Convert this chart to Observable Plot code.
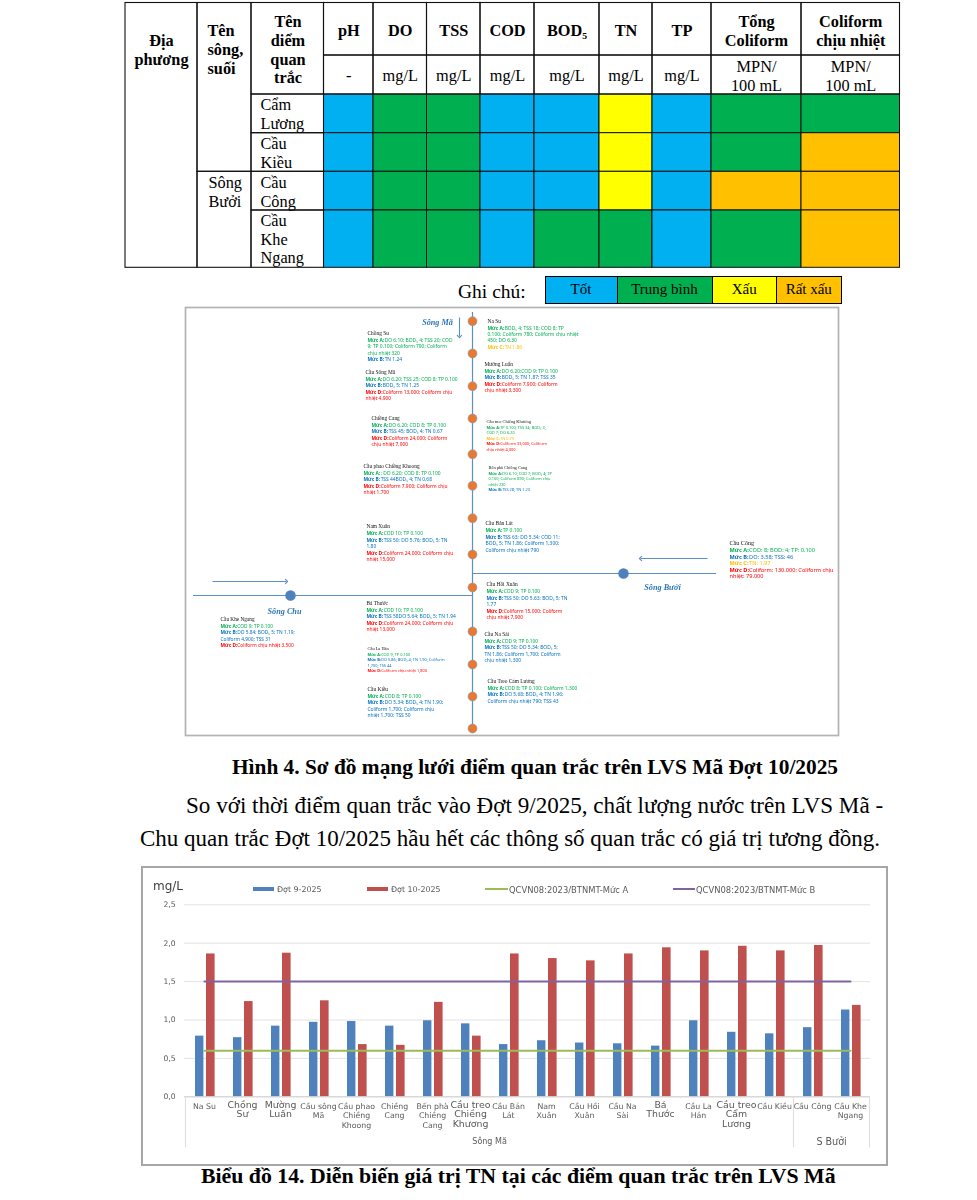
<!DOCTYPE html>
<html lang="vi">
<head>
<meta charset="utf-8">
<script src="https://cdn.jsdelivr.net/npm/d3@7"></script>
<script src="https://cdn.jsdelivr.net/npm/@observablehq/plot@0.6"></script>
<style>
html,body{margin:0;background:#fff;}
#page{position:relative;width:977px;height:1200px;overflow:hidden;font-family:"Liberation Serif",serif;color:#000;}
#page>*{position:absolute;}
.doc{white-space:nowrap;line-height:1;}
.soft svg{filter:blur(.35px);}
#qualityLegend{display:flex;left:544.5px;top:276px;height:26px;border:1.5px solid #000;font-size:15px;line-height:24px;text-align:center;}
#qualityLegend span{display:block;box-sizing:border-box;border-left:1px solid #000;}
#qualityLegend span:first-child{border-left:0;}
#chartFrame{left:141px;top:866px;width:743px;height:296px;border:2px solid #a6a6a6;background:#fff;}
#chartFrame>*{position:absolute;}
.lg{font:7.9px "DejaVu Sans",sans-serif;color:#595959;white-space:nowrap;filter:blur(.35px);}
.sw{filter:blur(.25px);}
</style>
</head>
<body>
<div id="page"></div>
<script>
// ---------- Table data ----------
const qualityGrades = ["Tốt", "Trung bình", "Xấu", "Rất xấu"];
const qualityColors = ["#00b0f0", "#00b050", "#ffff00", "#ffc000"];
const params = ["pH", "DO", "TSS", "COD", "BOD₅", "TN", "TP", "Tổng\nColiform", "Coliform\nchịu nhiệt"];
const units = ["-", "mg/L", "mg/L", "mg/L", "mg/L", "mg/L", "mg/L", "MPN/\n100 mL", "MPN/\n100 mL"];
const tablePoints = ["Cẩm\nLương", "Cầu\nKiều", "Cầu\nCông", "Cầu\nKhe\nNgang"];
const T = "Tốt", M = "Trung bình", X = "Xấu", R = "Rất xấu";
const gradesCamLuong = [T, M, M, T, T, X, T, M, M];
const gradesCauKieu = [T, M, M, T, T, X, T, M, R];
const gradesCauCong = [T, M, M, T, T, X, T, R, R];
const gradesKheNgang = [T, M, M, T, M, M, T, M, R];
const tableGrades = [gradesCamLuong, gradesCauKieu, gradesCauCong, gradesKheNgang];

// ---------- Bar chart data ----------
const stationLabels = ["Na Su", "Chồng\nSư", "Mường\nLuấn", "Cầu sông\nMã", "Cầu phao\nChiềng\nKhoong", "Chiềng\nCang",
  "Bến phà\nChiềng\nCang", "Cầu treo\nChiềng\nKhương", "Cầu Bản\nLát", "Nam\nXuân", "Cầu Hồi\nXuân", "Cầu Na\nSài",
  "Bá\nThước", "Cầu La\nHán", "Cầu treo\nCẩm\nLương", "Cầu Kiều", "Cầu Công", "Cầu Khe\nNgang"];
const tnDot9 = [0.79, 0.77, 0.92, 0.97, 0.98, 0.92, 0.99, 0.95, 0.68, 0.73, 0.70, 0.69, 0.66, 0.99, 0.84, 0.82, 0.90, 1.13];
const tnDot10 = [1.86, 1.24, 1.87, 1.25, 0.68, 0.67, 1.23, 0.79, 1.86, 1.80, 1.77, 1.86, 1.94, 1.90, 1.96, 1.90, 1.97, 1.19];
const limitA = 0.6;
const limitB = 1.5;
const yTicks = [0, 0.5, 1, 1.5, 2, 2.5];
const legendNames = ["Đợt 9-2025", "Đợt 10-2025", "QCVN08:2023/BTNMT-Mức A", "QCVN08:2023/BTNMT-Mức B"];
const largeLabels = ["Chồng\nSư", "Mường\nLuấn", "Cầu treo\nChiềng\nKhương", "Bá\nThước", "Cầu treo\nCẩm\nLương"];

// ---------- Network diagram notes ----------
const notes = {
  "Na Su": ["Mức A: BOD₅ 4; TSS 18; COD 8; TP", "0.100; Coliform 780; Coliform chịu nhiệt", "450; DO 6.30", "Mức C: TN 1.86"],
  "Chồng Su": ["Mức A:DO 6.10; BOD₅ 4; TSS 20; COD", "9; TP 0.100; Coliform 790; Coliform", "chịu nhiệt 320", "Mức B: TN 1.24"],
  "Mường Luấn": ["Mức A: DO 6.20;COD 9; TP 0.100", "Mức B: BOD₅ 5; TN 1.87; TSS 35", "Mức D: Coliform 7,900; Coliform", "chịu nhiệt 3,300"],
  "Cầu Sông Mã": ["Mức A: DO 6.20; TSS 25; COD 8; TP 0.100", "Mức B: BOD₅ 5; TN 1.25", "Mức D: Coliform 13,000; Coliform chịu", "nhiệt 4,900"],
  "Cầu treo Chiềng Khương": ["Mức A: TP 0.100; TSS 34; BOD₅ 3;", "COD 7; DO 6.20", "Mức C: TN 0.79", "Mức D: Coliform 33,000; Coliform", "chịu nhiệt 4,000"],
  "Chiềng Cang": ["Mức A: DO 6.20; COD 8; TP 0.100", "Mức B: TSS 45; BOD₅ 4; TN 0.67", "Mức D: Coliform 24,000; Coliform", "chịu nhiệt 7,900"],
  "Bến phà Chiềng Cang": ["Mức A: DO 6.10; COD 7; BOD₅ 4; TP", "0.100; Coliform 890; Coliform chịu", "nhiệt 230", "Mức B: TSS 28; TN 1.23"],
  "Cầu phao Chiềng Khoong": ["Mức A: ; DO 6.20; COD 8; TP 0.100", "Mức B: TSS 44BOD₅ 4; TN 0.68", "Mức D: Coliform 7,900; Coliform chịu", "nhiệt 1,700"],
  "Cầu Bản Lát": ["Mức A: TP 0.100", "Mức B: TSS 63; DO 5.34; COD 11;", "BOD₅ 5; TN 1.86; Coliform 1,300;", "Coliform chịu nhiệt 790"],
  "Nam Xuân": ["Mức A: COD 10; TP 0.100", "Mức B: TSS 50; DO 5.76; BOD₅ 5; TN", "1.80", "Mức D: Coliform 24,000; Coliform chịu", "nhiệt 15,000"],
  "Cầu Hồi Xuân": ["Mức A: COD 9; TP 0.100", "Mức B: TSS 50; DO 5.63; BOD₅ 5; TN", "1.77", "Mức D: Coliform 15,000; Coliform", "chịu nhiệt 7,900"],
  "Bá Thước": ["Mức A: COD 10; TP 0.100", "Mức B: TSS 58DO 5.64; BOD₅ 5; TN 1.94", "Mức D: Coliform 24,000; Coliform chịu", "nhiệt 13,000"],
  "Cầu Na Sài": ["Mức A: COD 9; TP 0.100", "Mức B: TSS 50; DO 5.34; BOD₅ 5;", "TN 1.86; Coliform 1,700; Coliform", "chịu nhiệt 1,300"],
  "Cầu La Hán": ["Mức A: COD 9; TP 0.100", "Mức B: DO 5.86; BOD₅ 4; TN 1.90; Coliform", "1,700; TSS 44", "Mức D: Coliform chịu nhiệt 1,800"],
  "Cầu Treo Cẩm Lương": ["Mức A: COD 8; TP 0.100; Coliform 1,300", "Mức B: DO 5.68; BOD₅ 4; TN 1.96;", "Coliform chịu nhiệt 790; TSS 43"],
  "Cầu Kiều": ["Mức A: COD 8; TP 0.100", "Mức B: DO 5.34; BOD₅ 4; TN 1.90;", "Coliform 1,700; Coliform chịu", "nhiệt 1,700; TSS 50"],
  "Cầu Khe Ngang": ["Mức A: COD 9; TP 0.100", "Mức B: DO 5.84; BOD₅ 5; TN 1.19;", "Coliform 4,900; TSS 31", "Mức D: Coliform chịu nhiệt 3,500"],
  "Cầu Công": ["Mức A: COD: 8; BOD: 4; TP: 0.100", "Mức B: DO: 3.58; TSS: 46", "Mức C: TN: 1.97", "Mức D: Coliform: 130.000; Coliform chịu", "nhiệt: 79.000"]
};

// ---------- Layout (kept apart from the values) ----------
const page = document.getElementById("page");
function place(el, left, top) { el.style.left = left + "px"; el.style.top = top + "px"; page.appendChild(el); return el; }
function doc(text, left, top, size, bold) {
  const d = document.createElement("div"); d.className = "doc"; d.textContent = text;
  d.style.fontSize = size + "px"; d.style.fontWeight = bold ? "bold" : "normal";
  return place(d, left, top);
}

// ---- Table ----
const colEdges = [323.5, 373, 426.5, 480, 534, 599, 652, 711, 801, 899.5];
const rowEdges = [94, 132.7, 171.3, 210, 267.3];
const bodyCells = tableGrades.flatMap((row, r) => row.map((g, c) => ({x1: colEdges[c], x2: colEdges[c + 1], y1: rowEdges[r], y2: rowEdges[r + 1], grade: g})));
const frameCells = [
  {x1: 125, x2: 197, y1: 2.5, y2: 267.3}, {x1: 197, x2: 251, y1: 2.5, y2: 171.3}, {x1: 197, x2: 251, y1: 171.3, y2: 267.3},
  {x1: 251, x2: 323.5, y1: 2.5, y2: 94},
  ...tablePoints.map((_, r) => ({x1: 251, x2: 323.5, y1: rowEdges[r], y2: rowEdges[r + 1]})),
  ...params.flatMap((_, c) => [{x1: colEdges[c], x2: colEdges[c + 1], y1: 2.5, y2: 55}, {x1: colEdges[c], x2: colEdges[c + 1], y1: 55, y2: 94}])
];
const tf = {fontFamily: "Liberation Serif", fontSize: 16.3, lineHeight: 1.16, fill: "#000"};
const mid = c => (colEdges[c] + colEdges[c + 1]) / 2;
const tableSvg = Plot.plot({
  width: 777, height: 268, margin: 0,
  x: {domain: [124, 901], range: [0, 777], axis: null},
  y: {domain: [1, 269], range: [0, 268], axis: null},
  color: {domain: qualityGrades, range: qualityColors},
  style: {background: "transparent", overflow: "visible"},
  marks: [
    Plot.rect(bodyCells, {x1: "x1", x2: "x2", y1: "y1", y2: "y2", fill: "grade", stroke: "#111", strokeWidth: 1}),
    Plot.rect(frameCells, {x1: "x1", x2: "x2", y1: "y1", y2: "y2", fill: "none", stroke: "#111", strokeWidth: 1.1}),
    Plot.text(["Địa\nphương"], {...tf, x: () => 161, y: () => 48.5, fontWeight: "bold"}),
    Plot.text(["Tên\nsông,\nsuối"], {...tf, x: () => 207, y: () => 48.5, textAnchor: "start", fontWeight: "bold"}),
    Plot.text(["Tên\ndiểm\nquan\ntrắc"], {...tf, x: () => 287.5, y: () => 48.5, fontWeight: "bold"}),
    Plot.text(params, {...tf, x: (_, i) => mid(i), y: (d) => d.includes("\n") ? 29.5 : 29, fontWeight: "bold"}),
    Plot.text(units, {...tf, x: (_, i) => mid(i), y: () => 74.5}),
    Plot.text(tablePoints, {...tf, x: () => 260, y: (_, i) => [113, 151.5, 190.5, 238][i], textAnchor: "start"}),
    Plot.text(["Sông\nBưởi"], {...tf, x: () => 208, y: () => 190.5, textAnchor: "start"})
  ]
});
place(tableSvg, 124, 1);

doc("Ghi chú:", 458, 282, 19.5);
const qualityLegend = document.createElement("div"); qualityLegend.id = "qualityLegend";
[71, 95, 64.5, 64.5].forEach((w, i) => {
  const s = document.createElement("span"); s.textContent = qualityGrades[i];
  s.style.width = w + "px"; s.style.background = qualityColors[i]; qualityLegend.appendChild(s);
});
page.appendChild(qualityLegend);

// ---- Network diagram ----
const mainNodeY = [320.7, 353, 385.7, 418, 453.7, 485.3, 517.7, 554, 587, 631, 664, 696, 728];
const labelLayout = { // name: [x, title y, line step, font size]
  "Na Su": [487, 321, 6.3, 4.9], "Chồng Su": [367, 333, 6.5, 4.9], "Mường Luấn": [484, 364, 6.5, 4.9],
  "Cầu Sông Mã": [365, 372, 6.4, 4.9], "Cầu treo Chiềng Khương": [486, 421, 5.5, 3.9], "Chiềng Cang": [371, 418, 6.5, 4.9],
  "Bến phà Chiềng Cang": [488, 467, 5.5, 3.9], "Cầu phao Chiềng Khoong": [363, 466, 6.4, 4.9], "Cầu Bản Lát": [485, 523, 6.6, 4.9],
  "Nam Xuân": [366, 526, 6.6, 4.9], "Cầu Hồi Xuân": [486, 584, 6.6, 4.9], "Bá Thước": [366, 603, 6.5, 4.9],
  "Cầu Na Sài": [484, 634, 6.5, 4.9], "Cầu La Hán": [367, 648, 5.5, 3.9], "Cầu Treo Cẩm Lương": [487, 681, 6.5, 4.9],
  "Cầu Kiều": [367, 689, 6.5, 4.9], "Cầu Khe Ngang": [220, 619, 6.4, 4.8], "Cầu Công": [729, 543, 6.5, 5.6]
};
const gradeInk = {A: "#00b050", B: "#0070c0", C: "#ffc000", D: "#ff0000"};
const titles = [], noteLines = [];
for (const [name, lines] of Object.entries(notes)) {
  const [x, y, step, size] = labelLayout[name];
  titles.push({name, x, y, size: size + .5});
  let g = "A";
  lines.forEach((t, i) => {
    const m = t.match(/^Mức ([A-D]):\s*(.*)$/);
    if (m) g = m[1];
    noteLines.push({x, y: y + step * (i + 1) + .3, size, ink: gradeInk[g], prefix: m ? `Mức ${m[1]}:` : null,
      rest: m ? m[2] : t, serif: name === "Cầu Công"});
  });
}
const noteFont = d => d.serif ? "Liberation Serif" : "Liberation Sans";
const river = "#5b8fc7";
const riverNames = ["Sông Mã", "Sông Chu", "Sông Bưởi"];
const diagramSvg = Plot.plot({
  width: 653, height: 428, margin: 0,
  x: {domain: [185, 838], range: [0, 653], axis: null},
  y: {domain: [307, 735], range: [0, 428], axis: null},
  style: {background: "#fff", overflow: "visible"},
  marks: [
    Plot.frame({stroke: "#b3b3b3", strokeWidth: 1.7}),
    Plot.ruleX([472], {y1: 312, y2: 728, stroke: river, strokeWidth: 1.2}),
    Plot.ruleY([595], {x1: 193, x2: 472, stroke: river, strokeWidth: 1.2}),
    Plot.ruleY([573], {x1: 472, x2: 716, stroke: river, strokeWidth: 1.2}),
    Plot.link([0], {x1: () => 212, y1: () => 581, x2: () => 286, y2: () => 581, stroke: river, strokeWidth: 1.1, markerEnd: "arrow"}),
    Plot.link([0], {x1: () => 707, y1: () => 558, x2: () => 640, y2: () => 558, stroke: river, strokeWidth: 1.1, markerEnd: "arrow"}),
    Plot.link([0], {x1: () => 459, y1: () => 317, x2: () => 459, y2: () => 336, stroke: river, strokeWidth: 1.1, markerEnd: "arrow"}),
    Plot.dot(mainNodeY, {x: () => 472, y: d => d, r: 4.5, fill: "#e8792f", stroke: "#7f9fbf", strokeWidth: .6}),
    Plot.dot([0, 1], {x: i => [290, 623][i], y: i => [595, 573][i], r: 4.5, fill: "#4f81bd", stroke: "#4f81bd"}),
    Plot.text(riverNames, {x: (_, i) => [437, 284, 662][i], y: (_, i) => [322, 611, 587][i], fontFamily: "Liberation Serif",
      fontStyle: "italic", fontWeight: "bold", fontSize: 8.2, fill: "#2e75b6"}),
    Plot.text(titles, {x: "x", y: "y", text: "name", fontSize: "size", fontFamily: "Liberation Serif", textAnchor: "start", fill: "#111"}),
    Plot.text(noteLines.filter(d => d.prefix), {x: "x", y: "y", text: "prefix", fontSize: "size", fontWeight: "bold",
      fontFamily: noteFont, textAnchor: "start", fill: "ink"}),
    Plot.text(noteLines.filter(d => d.prefix), {x: d => d.x + d.size * 3.5, y: "y", text: "rest", fontSize: "size",
      fontFamily: noteFont, textAnchor: "start", fill: "ink"}),
    Plot.text(noteLines.filter(d => !d.prefix), {x: "x", y: "y", text: "rest", fontSize: "size",
      fontFamily: noteFont, textAnchor: "start", fill: "ink"})
  ]
});
const diagramBox = document.createElement("div"); diagramBox.className = "soft"; diagramBox.appendChild(diagramSvg);
place(diagramBox, 185, 307);

doc("Hình 4. Sơ đồ mạng lưới điểm quan trắc trên LVS Mã Đợt 10/2025", 232, 757, 21.35, true);
doc("So với thời điểm quan trắc vào Đợt 9/2025, chất lượng nước trên LVS Mã -", 186, 793.5, 23.1);
doc("Chu quan trắc Đợt 10/2025 hầu hết các thông số quan trắc có giá trị tương đồng.", 140, 826.5, 23);
doc("Biểu đồ 14. Diễn biến giá trị TN tại các điểm quan trắc trên LVS Mã", 201, 1166, 21.8, true);

// ---- Bar chart ----
const bars = stationLabels.map((s, i) => ({s, a: tnDot9[i], b: tnDot10[i]}));
const axisInk = "#595959";
const labelText = {x: d => d, y: () => 0, dy: 5, lineAnchor: "top", lineHeight: 1.25, fontFamily: "DejaVu Sans", fill: axisInk};
const groupEdges = [{s: "Na Su", dx: -19.05}, {s: "Cầu Công", dx: -19.05}, {s: "Cầu Khe\nNgang", dx: 19.05}];
const groups = [{name: "Sông Mã", s: "Cầu treo\nChiềng\nKhương", size: 8}, {name: "S Bưởi", s: "Cầu Công", size: 9.6}];
const chartSvg = Plot.plot({
  width: 741, height: 268, marginLeft: 41, marginRight: 14, marginTop: 9.3, marginBottom: 66.7,
  x: {type: "band", domain: stationLabels, padding: 0, axis: null},
  y: {domain: [0, 2.5], axis: null},
  style: {background: "transparent", overflow: "visible"},
  marks: [
    Plot.gridY(yTicks, {stroke: "#e3e3e3", strokeOpacity: 1, strokeWidth: 1}),
    Plot.axisY(yTicks, {anchor: "left", tickSize: 0, tickPadding: 9, label: null, fontSize: 7.6, fontFamily: "DejaVu Sans", fill: axisInk,
      tickFormat: d => d3.format(".1f")(d).replace(".", ",")}),
    Plot.barY(bars, {x: "s", y: "a", fill: "#4f81bd", insetLeft: 10, insetRight: 19.6}),
    Plot.barY(bars, {x: "s", y: "b", fill: "#c0504d", insetLeft: 21, insetRight: 8.4}),
    Plot.ruleY([0], {stroke: "#d0d0d0"}),
    Plot.line(stationLabels, {x: d => d, y: () => limitA, stroke: "#9bbb59", strokeWidth: 2}),
    Plot.line(stationLabels, {x: d => d, y: () => limitB, stroke: "#8064a2", strokeWidth: 2}),
    ...groupEdges.map(g => Plot.ruleX([g.s], {dx: g.dx, y1: 0, y2: -0.665, stroke: "#dcdcdc"})),
    Plot.text(stationLabels.filter(d => !largeLabels.includes(d)), {...labelText, fontSize: 7.8}),
    Plot.text(largeLabels, {...labelText, fontSize: 9.4, dy: 4.5, lineHeight: 1}),
    ...groups.map(g => Plot.text([g.name], {x: () => g.s, y: () => -0.585, dx: 19.05, fontSize: g.size, fontFamily: "DejaVu Sans", fill: axisInk}))
  ]
});
const chartFrame = document.createElement("div"); chartFrame.id = "chartFrame";
const chartBox = document.createElement("div"); chartBox.className = "soft"; chartBox.style.left = "0"; chartBox.style.top = "27px";
chartBox.appendChild(chartSvg); chartFrame.appendChild(chartBox);
const mgl = document.createElement("div"); mgl.className = "lg"; mgl.textContent = "mg/L";
mgl.style.cssText += "left:10px;top:11px;font-size:12px;color:#404040;"; chartFrame.appendChild(mgl);
[{swatch: "#4f81bd", x: 110, w: 21, h: 4, size: 7.9}, {swatch: "#c0504d", x: 224, w: 21, h: 4, size: 7.9}, {swatch: "#9bbb59", x: 342, w: 23, h: 2, size: 8.4}, {swatch: "#8064a2", x: 530, w: 22, h: 2, size: 8.4}].forEach((k, i) => {
  const s = document.createElement("div"); s.className = "sw";
  s.style.cssText = `left:${k.x}px;top:${21 - k.h / 2}px;width:${k.w}px;height:${k.h}px;background:${k.swatch};`;
  const t = document.createElement("div"); t.className = "lg"; t.textContent = legendNames[i];
  t.style.cssText += `left:${k.x + k.w + (i < 2 ? 3 : 1)}px;top:16.5px;font-size:${k.size}px;`;
  chartFrame.append(s, t);
});
page.appendChild(chartFrame);
</script>
</body>
</html>
